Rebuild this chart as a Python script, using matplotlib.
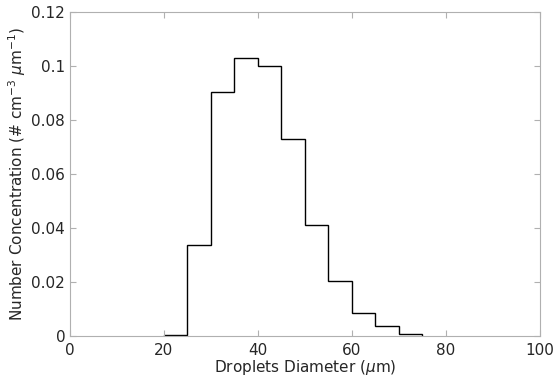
import numpy as np
import matplotlib.pyplot as plt

# droplet size bins (um) and number concentration per bin
bin_edges = [20, 25, 30, 35, 40, 45, 50, 55, 60, 65, 70, 75]
concentration = [0.0003, 0.0337, 0.0903, 0.1029, 0.1001, 0.0730,
                 0.0411, 0.0204, 0.0085, 0.0036, 0.0006]

fig = plt.figure(figsize=(5.6, 3.77), dpi=100)
ax = fig.add_axes([0.125, 0.109, 0.839, 0.859])

ax.stairs(concentration, bin_edges, color='black', linewidth=1.0, baseline=0)

ax.set_xlim(0, 100)
ax.set_ylim(0, 0.12)
ax.set_xticks([0, 20, 40, 60, 80, 100])
ax.set_yticks([0, 0.02, 0.04, 0.06, 0.08, 0.1, 0.12])
ax.set_yticklabels(['0', '0.02', '0.04', '0.06', '0.08', '0.1', '0.12'])

for s in ax.spines.values():
    s.set_color('#b0b0b0')
    s.set_linewidth(0.8)
ax.tick_params(direction='in', top=True, right=True, colors='#b0b0b0',
               labelcolor='#262626', labelsize=11, length=4)
ax.tick_params(axis='x', pad=5)

ax.set_xlabel(r'Droplets Diameter ($\mu$m)', fontsize=11, color='#262626', labelpad=0)
ax.set_ylabel(r'Number Concentration (# cm$^{-3}$ $\mu$m$^{-1}$)', fontsize=11,
              color='#262626', labelpad=2)

plt.savefig('out.png')
